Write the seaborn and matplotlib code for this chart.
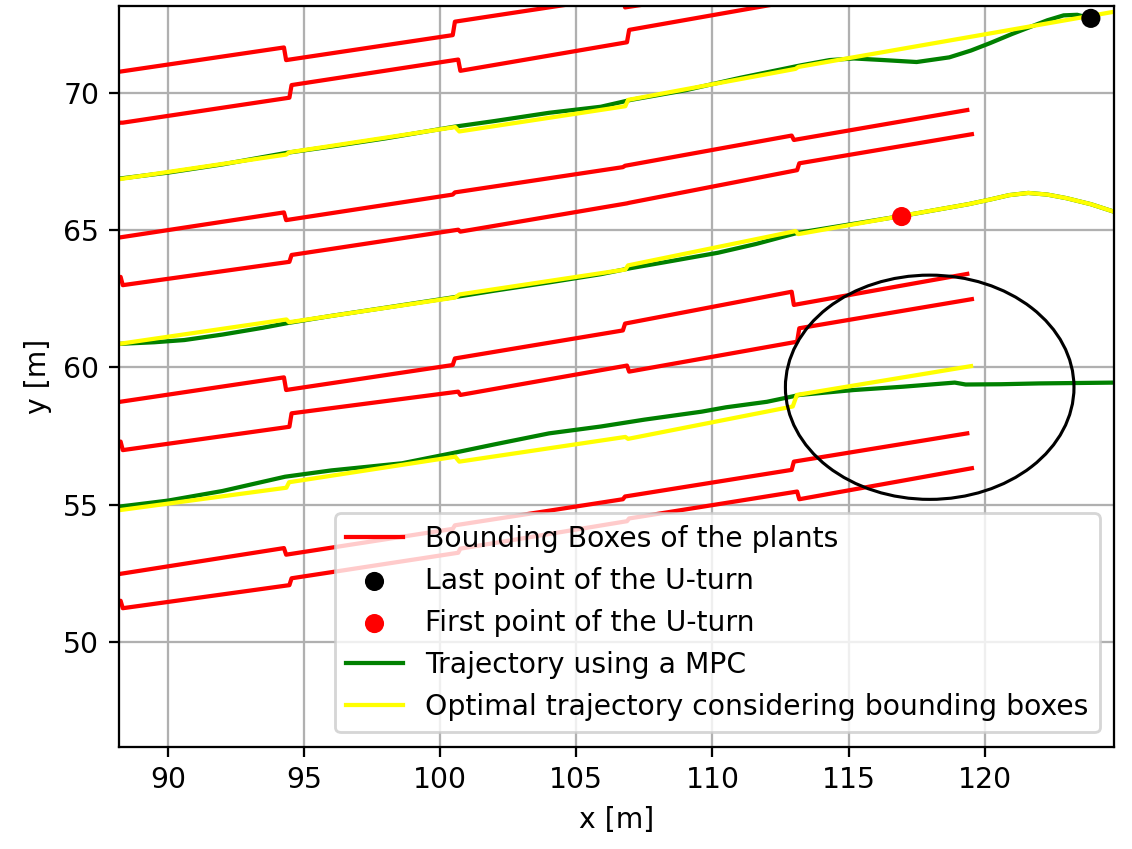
import matplotlib
matplotlib.use("Agg")
import matplotlib.pyplot as plt
from matplotlib.patches import Ellipse
import seaborn as sns

# Segment boundaries (x, m) of the plant bounding boxes along each row.
UPPER_EDGE_X = [88.2, 94.3, 100.5, 106.75, 112.95, 119.4]
LOWER_EDGE_X = [82.1, 88.3, 94.5, 100.7, 106.9, 113.15, 119.57]

# (start y, end y) of every box edge, upper edges of the rows
A1 = [(70.78, 71.66), (71.20, 72.11), (72.60, 73.53), (73.12, 74.05)]
B1 = [(64.74, 65.65), (65.37, 66.30), (66.38, 67.30), (67.35, 68.45), (68.29, 69.38)]
C1 = [(58.75, 59.64), (59.18, 60.09), (60.33, 61.35), (61.60, 62.76), (62.28, 63.41)]
D1 = [(52.48, 53.42), (53.18, 54.12), (54.25, 55.20), (55.30, 56.27), (56.57, 57.60)]
# lower edges of the rows (first box starts left of the view)
A2 = [(68.00, 68.92), (68.92, 69.83), (70.29, 71.22), (70.81, 71.85), (72.30, 73.38)]
B2 = [(62.40, 63.30), (63.00, 63.85), (64.10, 65.02), (64.95, 65.98), (66.00, 67.19), (67.44, 68.50)]
C2 = [(56.40, 57.30), (56.99, 57.84), (58.33, 59.12), (59.00, 60.07), (59.85, 60.94), (61.43, 62.49)]
D2 = [(50.60, 51.50), (51.23, 52.07), (52.32, 53.25), (53.40, 54.40), (54.50, 55.48), (55.20, 56.33)]

# Optimal trajectories between the rows
YELLOW_TOP_X = [88.2, 94.35, 94.45, 100.55, 100.7, 106.8, 106.9, 113.05, 113.15, 124.8]
YELLOW_TOP_Y = [66.86, 67.76, 67.84, 68.76, 68.60, 69.52, 69.75, 70.88, 70.95, 72.97]
YELLOW_MID_X = [88.2, 94.35, 94.45, 100.55, 100.7, 106.8, 106.9, 113.05, 113.15, 119.4,
                120.2, 120.9, 121.6, 122.3, 123.0, 123.9, 124.8]
YELLOW_MID_Y = [60.86, 61.75, 61.65, 62.55, 62.66, 63.57, 63.72, 64.97, 64.86, 65.95,
                66.12, 66.28, 66.36, 66.30, 66.17, 65.95, 65.66]
YELLOW_LOW_X = [88.2, 94.35, 94.45, 100.55, 100.7, 106.8, 106.9, 112.95, 113.1, 119.5]
YELLOW_LOW_Y = [54.80, 55.62, 55.82, 56.75, 56.57, 57.47, 57.40, 58.58, 59.00, 60.05]

# MPC trajectories
GREEN_TOP_X = [88.2, 90.0, 92.0, 94.35, 96.0, 98.0, 100.5, 102.0, 104.0, 105.9, 107.0, 109.0,
               111.0, 113.2, 114.3, 115.2, 116.3, 117.5, 118.7, 119.5, 120.2, 121.0, 121.6,
               122.3, 122.9, 123.4, 123.9]
GREEN_TOP_Y = [66.88, 67.10, 67.40, 67.82, 68.05, 68.35, 68.77, 68.98, 69.28, 69.50, 69.75, 70.10,
               70.55, 71.00, 71.20, 71.26, 71.20, 71.13, 71.30, 71.55, 71.82, 72.15, 72.38,
               72.65, 72.83, 72.85, 72.72]
GREEN_MID_X = [88.2, 89.5, 90.6, 92.0, 93.5, 94.4, 96.0, 98.0, 100.5, 102.0, 104.0, 105.9, 107.0,
               108.5, 110.2, 111.6, 113.1, 116.95, 119.4, 120.2, 120.9, 121.6, 122.3, 123.0,
               123.9, 124.8]
GREEN_MID_Y = [60.86, 60.92, 61.00, 61.20, 61.45, 61.62, 61.88, 62.18, 62.56, 62.80, 63.10, 63.40,
               63.62, 63.88, 64.18, 64.50, 64.90, 65.52, 65.95, 66.12, 66.28, 66.36, 66.30,
               66.17, 65.95, 65.66]
GREEN_LOW_X = [88.2, 90.0, 92.0, 94.3, 96.0, 98.6, 100.4, 102.0, 104.0, 105.9, 107.5, 109.6, 110.5,
               112.0, 113.2, 115.2, 117.0, 118.9, 119.3, 120.6, 122.0, 124.8]
GREEN_LOW_Y = [54.93, 55.15, 55.50, 56.02, 56.25, 56.51, 56.87, 57.20, 57.60, 57.85, 58.10, 58.39,
               58.55, 58.75, 59.00, 59.18, 59.30, 59.45, 59.38, 59.39, 59.42, 59.45]

# U-turn points
LAST_POINT = (123.9, 72.72)
FIRST_POINT = (116.95, 65.5)

# Highlighted region
ZOOM_CENTER = (117.98, 59.28)
ZOOM_WIDTH, ZOOM_HEIGHT = 10.6, 8.17


def edge_polyline(bounds, segments, gap=0.04):
    xs, ys = [], []
    for i, (y0, y1) in enumerate(segments):
        xs += [bounds[i] + gap, bounds[i + 1] - gap]
        ys += [y0, y1]
    return xs, ys


DPI = 203
fig = plt.figure(figsize=(1132 / DPI, 849 / DPI), dpi=DPI)
ax = fig.add_axes([0.1051, 0.1207, 0.8790, 0.8722])

first = True
for segs, bounds in [(A1, UPPER_EDGE_X), (A2, LOWER_EDGE_X), (B1, UPPER_EDGE_X),
                     (B2, LOWER_EDGE_X), (C1, UPPER_EDGE_X), (C2, LOWER_EDGE_X),
                     (D1, UPPER_EDGE_X), (D2, LOWER_EDGE_X)]:
    xs, ys = edge_polyline(bounds, segs)
    sns.lineplot(x=xs, y=ys, sort=False, estimator=None, color="red", linewidth=1.5,
                 ax=ax, legend=False,
                 label="Bounding Boxes of the plants" if first else None)
    first = False

sns.scatterplot(x=[LAST_POINT[0]], y=[LAST_POINT[1]], color="black", s=46,
                edgecolor="none", zorder=3, ax=ax, label="Last point of the U-turn")
sns.scatterplot(x=[FIRST_POINT[0]], y=[FIRST_POINT[1]], color="red", s=46,
                edgecolor="none", zorder=3, ax=ax, label="First point of the U-turn")

first = True
for xs, ys in [(GREEN_TOP_X, GREEN_TOP_Y), (GREEN_MID_X, GREEN_MID_Y), (GREEN_LOW_X, GREEN_LOW_Y)]:
    sns.lineplot(x=xs, y=ys, sort=False, estimator=None, color="green", linewidth=1.5,
                 ax=ax, legend=False, label="Trajectory using a MPC" if first else None)
    first = False

first = True
for xs, ys in [(YELLOW_TOP_X, YELLOW_TOP_Y), (YELLOW_MID_X, YELLOW_MID_Y), (YELLOW_LOW_X, YELLOW_LOW_Y)]:
    sns.lineplot(x=xs, y=ys, sort=False, estimator=None, color="yellow", linewidth=1.5,
                 ax=ax, legend=False,
                 label="Optimal trajectory considering bounding boxes" if first else None)
    first = False

ax.add_patch(Ellipse(ZOOM_CENTER, ZOOM_WIDTH, ZOOM_HEIGHT, fill=False,
                     edgecolor="black", linewidth=1.1, zorder=4))

ax.set_xlim(88.2, 124.75)
ax.set_ylim(46.19, 73.17)
ax.set_xticks([90, 95, 100, 105, 110, 115, 120])
ax.set_yticks([50, 55, 60, 65, 70])
ax.grid(True)
ax.set_axisbelow(True)
ax.set_xlabel("x [m]")
ax.set_ylabel("y [m]")

handles, labels = ax.get_legend_handles_labels()
ax.legend(handles, labels, loc="lower right")

fig.savefig("out.png", dpi=DPI)
